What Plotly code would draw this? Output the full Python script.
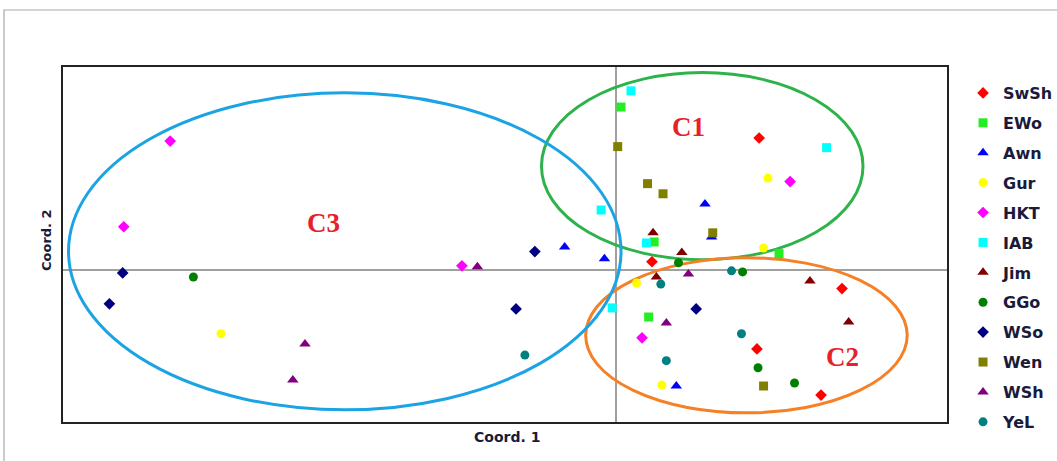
import plotly.graph_objects as go

# ---- data (Coord. 1, Coord. 2) ----
series_names = ["SwSh", "EWo", "Awn", "Gur", "HKT", "IAB", "Jim", "GGo", "WSo", "Wen", "WSh", "YeL"]

SwSh_x = [0.130, 0.033, 0.205, 0.128, 0.186]
SwSh_y = [0.260, 0.016, -0.037, -0.156, -0.247]

EWo_x = [0.005, 0.035, 0.148, 0.030]
EWo_y = [0.321, 0.055, 0.032, -0.093]

Awn_x = [-0.046, -0.010, 0.081, 0.087, 0.055]
Awn_y = [0.045, 0.022, 0.130, 0.065, -0.229]

Gur_x = [0.138, 0.134, 0.019, 0.042, -0.357]
Gur_y = [0.181, 0.043, -0.026, -0.227, -0.126]

HKT_x = [-0.403, -0.445, -0.139, 0.158, 0.024]
HKT_y = [0.254, 0.085, 0.008, 0.174, -0.134]

IAB_x = [0.014, 0.191, -0.013, 0.028, -0.003]
IAB_y = [0.353, 0.241, 0.118, 0.053, -0.075]

Jim_x = [0.034, 0.060, 0.037, 0.176, 0.211]
Jim_y = [0.073, 0.034, -0.014, -0.022, -0.103]

GGo_x = [-0.382, 0.115, 0.129, 0.162, 0.057]
GGo_y = [-0.014, -0.004, -0.193, -0.223, 0.014]

WSo_x = [-0.446, -0.458, -0.073, -0.090, 0.073]
WSo_y = [-0.006, -0.067, 0.036, -0.077, -0.077]

Wen_x = [0.002, 0.029, 0.043, 0.088, 0.134]
Wen_y = [0.243, 0.170, 0.150, 0.073, -0.229]

WSh_x = [-0.125, -0.281, -0.292, 0.066, 0.046]
WSh_y = [0.006, -0.146, -0.217, -0.008, -0.105]

YeL_x = [-0.082, 0.041, 0.105, 0.114, 0.046]
YeL_y = [-0.168, -0.028, -0.002, -0.126, -0.179]

series_x = [SwSh_x, EWo_x, Awn_x, Gur_x, HKT_x, IAB_x, Jim_x, GGo_x, WSo_x, Wen_x, WSh_x, YeL_x]
series_y = [SwSh_y, EWo_y, Awn_y, Gur_y, HKT_y, IAB_y, Jim_y, GGo_y, WSo_y, Wen_y, WSh_y, YeL_y]

# cluster ellipses (bounding boxes in data units)
cluster_names = ["C1", "C2", "C3"]
cluster_x0 = [-0.067, -0.027, -0.495]
cluster_x1 = [0.224, 0.264, 0.005]
cluster_y0 = [0.020, -0.282, -0.276]
cluster_y1 = [0.389, 0.024, 0.349]
cluster_label_x = [0.066, 0.205, -0.264]
cluster_label_y = [0.282, -0.172, 0.093]

# ---- styles ----
colors = ["#ff0000", "#22ee22", "#0000ff", "#ffff00", "#ff00ff", "#00ffff",
          "#800000", "#008000", "#000080", "#808000", "#800080", "#008080"]
symbols = ["diamond", "square", "triangle-up", "circle", "diamond", "square",
           "triangle-up", "circle", "diamond", "square", "triangle-up", "circle"]
sizes = {"diamond": 9, "square": 9, "triangle-up": 10, "circle": 9}
cluster_colors = ["#2db34a", "#f58025", "#1ba3e4"]

fig = go.Figure()
for i, name in enumerate(series_names):
    fig.add_trace(go.Scatter(
        x=series_x[i], y=series_y[i], mode="markers", name=name,
        legendgroup=name,
        marker=dict(color=colors[i], symbol=symbols[i], size=sizes[symbols[i]],
                    line=dict(width=0)),
    ))

for i, c in enumerate(cluster_names):
    fig.add_shape(type="circle", xref="x", yref="y",
                  x0=cluster_x0[i], x1=cluster_x1[i], y0=cluster_y0[i], y1=cluster_y1[i],
                  line=dict(color=cluster_colors[i], width=3), layer="between")
    fig.add_annotation(x=cluster_label_x[i], y=cluster_label_y[i], text="<b>%s</b>" % c,
                       showarrow=False, xanchor="center", yanchor="middle",
                       font=dict(family="Liberation Serif", size=27, color="#e8202a"))

# outer gray frame
fig.add_shape(type="rect", xref="paper", yref="paper",
              x0=(4 - 63) / 884, x1=(1070 - 63) / 884,
              y0=(422 - 470) / 355, y1=(422 - 10) / 355,
              line=dict(color="#a8a8a8", width=1.2), layer="below")

# axis titles
fig.add_annotation(xref="paper", yref="paper", x=(507 - 63) / 884, y=(422 - 437) / 355,
                   xanchor="center", yanchor="middle",
                   text="<b>Coord. 1</b>", showarrow=False,
                   font=dict(family="DejaVu Sans", size=14, color="#1a1a3a"))
fig.add_annotation(xref="paper", yref="paper", x=(46 - 63) / 884, y=(422 - 240) / 355,
                   xanchor="center", yanchor="middle",
                   text="<b>Coord. 2</b>", showarrow=False, textangle=-90,
                   font=dict(family="DejaVu Sans", size=13, color="#1a1a3a"))

axis_common = dict(showgrid=False, showticklabels=False, ticks="",
                   zeroline=True, zerolinecolor="#a0a0a0", zerolinewidth=1.5,
                   showline=True, linecolor="#222222", linewidth=1.5, mirror=True)
fig.update_xaxes(range=[-0.5, 0.3], **axis_common)
fig.update_yaxes(range=[-0.3, 0.4], **axis_common)

fig.update_layout(
    width=1057, height=461,
    margin=dict(l=63, r=110, t=67, b=39),
    paper_bgcolor="white", plot_bgcolor="white",
    showlegend=True,
    legend=dict(xref="container", yref="container",
                x=0.9111, xanchor="left", y=0.8351, yanchor="top",
                maxheight=420,
                traceorder="grouped", tracegroupgap=6.1,
                font=dict(family="DejaVu Sans", size=16, color="#1a1a3a"),
                itemwidth=30, bgcolor="rgba(0,0,0,0)"),
)
fig.update_layout(legend_font_weight="bold")

fig.write_html("out.html",
               config={"displayModeBar": False},
               post_script="document.body.style.margin='0';document.body.style.overflow='hidden';")
